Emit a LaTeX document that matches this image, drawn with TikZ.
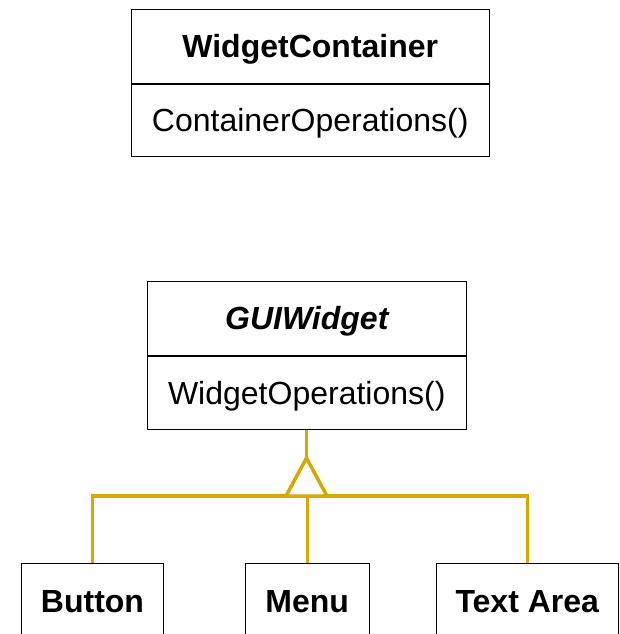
\documentclass[tikz,border=0pt]{standalone}
\usepackage{fontspec}
\setmainfont{Liberation Sans}
\definecolor{gold}{RGB}{214,168,0}
\begin{document}
\begin{tikzpicture}[x=1pt,y=-1pt,
  cell/.style={draw=black,line width=1pt,inner sep=0pt,anchor=north west,
    text height=22.9pt,text depth=0pt,
    font=\fontsize{32}{38}\selectfont},
  titlecell/.style={cell,font=\fontsize{32}{38}\selectfont\bfseries},
  inh/.style={draw=gold,line width=3.5pt},
]
\useasboundingbox (0,0) rectangle (619,634);
\clip (0,0) rectangle (619,634);
% WidgetContainer
\node[titlecell,minimum width=357.5pt,minimum height=73.5pt] (wc) at (131,9) {WidgetContainer};
\node[cell,minimum width=357.5pt,minimum height=72.5pt] (wcops) at (wc.south west) {ContainerOperations()};
% GUIWidget
\node[titlecell,minimum width=318.5pt,minimum height=74pt] (gw) at (147,281) {\itshape GUIWidget};
\node[cell,minimum width=318.5pt,minimum height=73pt] (gwops) at (gw.south west) {WidgetOperations()};
% subclasses
\node[titlecell,minimum width=142pt,minimum height=76pt] (button) at (21,563) {Button};
\node[titlecell,minimum width=123.5pt,minimum height=76pt] (menu) at (245,563) {Menu};
\node[titlecell,minimum width=182.5pt,minimum height=76pt] (textarea) at (435.5,563) {Text Area};
% inheritance
\coordinate (apex) at (306.5,458);
\coordinate (bl) at (286,496);
\coordinate (br) at (327,496);
\coordinate (bar) at (306.5,496);
\draw[inh] (apex |- gwops.south) -- (apex);
\draw[inh] (button.north) |- (bar) -| (textarea.north);
\draw[inh] (menu.north) -- (menu.north |- bar);
\draw[inh,fill=white] (apex) -- (bl) -- (br) -- cycle;
\end{tikzpicture}
\end{document}
